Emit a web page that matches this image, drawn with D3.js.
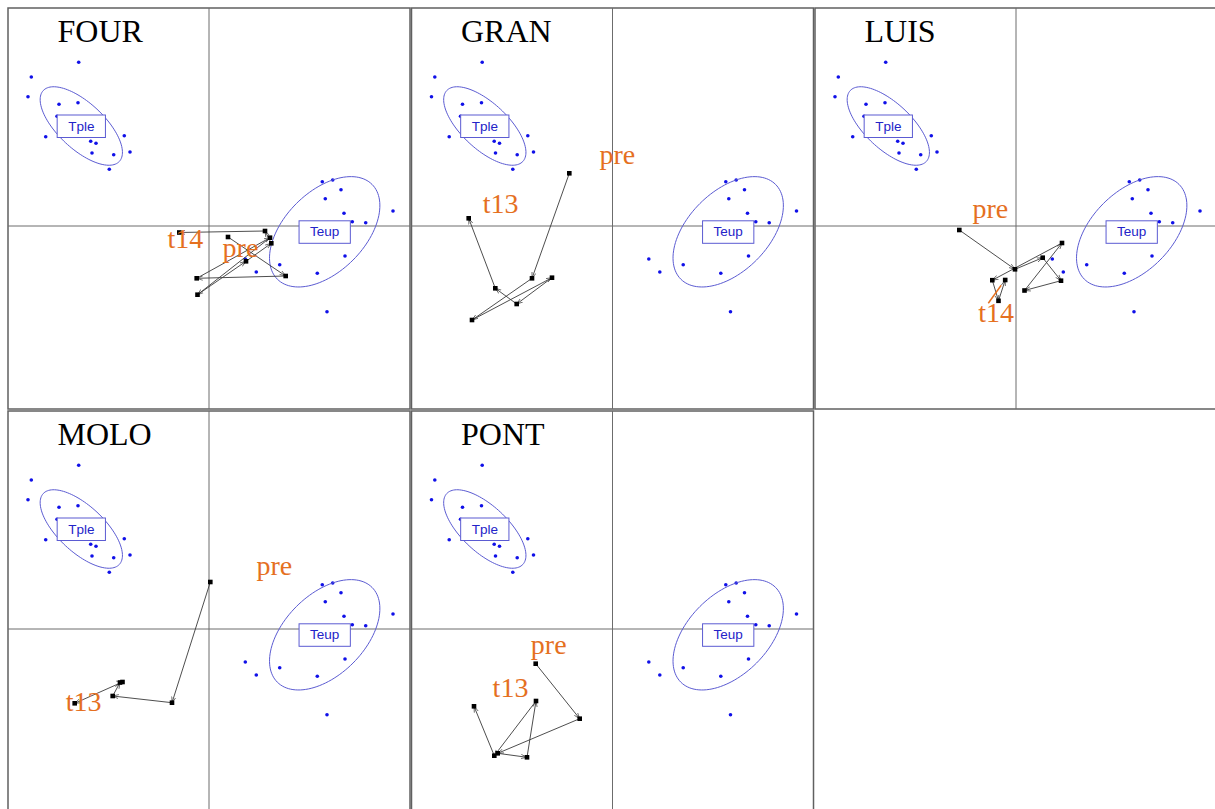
<!DOCTYPE html>
<html>
<head>
<meta charset="utf-8">
<script src="https://cdn.jsdelivr.net/npm/d3@7"></script>
<style>
  body { margin: 0; background: #fff; }
  svg { display: block; }
</style>
</head>
<body>
<svg id="chart" width="1215" height="809"></svg>
<script>
// ---- data -------------------------------------------------------------
const sites = ["FOUR", "GRAN", "LUIS", "MOLO", "PONT"];
const groupNames = ["Tple", "Teup"];

// reference samples on the factorial plane
const tpleX = [-1.303, -1.777, -1.81, -1.50, -1.31, -1.52, -1.633, -1.183, -1.13, -0.847, -1.17, -0.953, -0.79, -0.997];
const tpleY = [1.637, 1.49, 1.293, 1.217, 1.233, 1.097, 0.893, 0.847, 0.827, 0.903, 0.73, 0.713, 0.74, 0.567];
const teupX = [1.133, 1.237, 1.32, 1.163, 1.84, 1.35, 1.433, 1.567, 0.363, 1.36, 0.707, 0.473, 1.083, 1.18];
const teupY = [0.443, 0.46, 0.363, 0.273, 0.15, 0.127, 0.043, 0.033, -0.33, -0.30, -0.387, -0.46, -0.473, -0.857];

// class ellipses: centre, semi-axes and rotation (degrees)
const ellipseCx = [-1.277, 1.157];
const ellipseCy = [1.0, -0.058];
const ellipseA = [0.52, 0.67];
const ellipseB = [0.23, 0.40];
const ellipseRot = [-43, 45];

// site trajectories, in time order (first = pre, last = final date)
const trajFOUR = [[0.19, -0.11], [0.767, -0.50], [-0.123, -0.523], [0.61, -0.117], [-0.115, -0.687], [0.37, -0.353], [0.623, -0.173], [0.56, -0.05], [-0.297, -0.065]];
const trajGRAN = [[-0.432, 0.527], [-0.805, -0.523], [-1.405, -0.94], [-0.605, -0.517], [-0.958, -0.78], [-1.172, -0.623], [-1.438, 0.077]];
const trajLUIS = [[-0.567, -0.04], [-0.01, -0.433], [0.267, -0.317], [0.45, -0.547], [0.085, -0.645], [0.46, -0.17], [-0.237, -0.542], [-0.175, -0.748], [-0.108, -0.54]];
const trajMOLO = [[0.013, 0.47], [-0.37, -0.737], [-0.963, -0.67], [-0.89, -0.535], [-0.865, -0.53], [-1.343, -0.743]];
const trajPONT = [[-0.768, -0.347], [-0.328, -0.897], [-1.148, -1.243], [-0.855, -1.283], [-0.765, -0.72], [-1.182, -1.267], [-1.385, -0.773]];

const startLabels = ["pre", "pre", "pre", "pre", "pre"];
const endLabels = ["t14", "t13", "t14", "t13", "t13"];

// ---- layout / style ---------------------------------------------------
const trajectories = [trajFOUR, trajGRAN, trajLUIS, trajMOLO, trajPONT];
const panelW = 402, panelH = 401;
const colStep = 403.5, rowStep = 403, left0 = 8, top0 = 8;
const nCols = 3;

// label placement (pixel nudges from the labelled point)
const labelNudge = [
  { start: [12.5, 20], end: [6, 15.5] },
  { start: [48, -9], end: [32, -5] },
  { start: [31, -12], end: [-9, 42], leader: true },
  { start: [64, -7], end: [9, 7.5] },
  { start: [13, -10], end: [36.5, -9] }
];

const dotColor = "#1010e8";
const ellColor = "#5b5bd2";
const labelColor = "#e5701f";

const x = d3.scaleLinear().domain([-2.01, 2.01]).range([0, panelW]);
const y = d3.scaleLinear().domain([-1.83, 2.18]).range([panelH, 0]);

const svg = d3.select("#chart");

const defs = svg.append("defs");
defs.append("marker")
  .attr("id", "arrowhead")
  .attr("viewBox", "0 0 10 10")
  .attr("refX", 10).attr("refY", 5)
  .attr("markerWidth", 6).attr("markerHeight", 6)
  .attr("markerUnits", "userSpaceOnUse")
  .attr("orient", "auto")
  .append("path")
  .attr("d", "M0,1.5 L10,5 L0,8.5")
  .attr("fill", "none")
  .attr("stroke", "#444")
  .attr("stroke-width", 1.2);

const tple = tpleX.map((v, i) => [v, tpleY[i]]);
const teup = teupX.map((v, i) => [v, teupY[i]]);
const samples = tple.concat(teup);

function ellipsePath(k) {
  const rot = ellipseRot[k] * Math.PI / 180;
  const pts = d3.range(0, 361, 3).map(deg => {
    const t = deg * Math.PI / 180;
    const dx = ellipseA[k] * Math.cos(t), dy = ellipseB[k] * Math.sin(t);
    return [x(ellipseCx[k] + dx * Math.cos(rot) - dy * Math.sin(rot)),
            y(ellipseCy[k] + dx * Math.sin(rot) + dy * Math.cos(rot))];
  });
  return d3.line()(pts) + "Z";
}

sites.forEach((site, i) => {
  const c = i % nCols, r = Math.floor(i / nCols);
  const g = svg.append("g")
    .attr("transform", `translate(${left0 + c * colStep},${top0 + r * rowStep})`);

  // frame
  g.append("rect")
    .attr("x", 0).attr("y", 0)
    .attr("width", panelW).attr("height", panelH)
    .attr("fill", "none").attr("stroke", "#606060").attr("stroke-width", 1.5);

  // axes through the origin
  g.append("line").attr("x1", 0).attr("x2", panelW).attr("y1", y(0)).attr("y2", y(0))
    .attr("stroke", "#6c6c6c").attr("stroke-width", 1);
  g.append("line").attr("x1", x(0)).attr("x2", x(0)).attr("y1", 0).attr("y2", panelH)
    .attr("stroke", "#6c6c6c").attr("stroke-width", 1);

  // reference samples
  g.selectAll("circle.sample").data(samples).join("circle")
    .attr("class", "sample")
    .attr("cx", d => x(d[0])).attr("cy", d => y(d[1]))
    .attr("r", 1.8).attr("fill", dotColor);

  // class ellipses
  groupNames.forEach((name, k) => {
    g.append("path").attr("d", ellipsePath(k))
      .attr("fill", "none").attr("stroke", ellColor).attr("stroke-width", 1);
  });

  // class labels in boxes
  groupNames.forEach((name, k) => {
    const lg = g.append("g");
    const t = lg.append("text")
      .attr("x", x(ellipseCx[k])).attr("y", y(ellipseCy[k]))
      .attr("text-anchor", "middle").attr("dominant-baseline", "central")
      .attr("font-family", "'Liberation Sans', Arial, sans-serif")
      .attr("font-size", 13.5).attr("fill", "#2323c8")
      .text(name);
    const bb = t.node().getBBox();
    lg.insert("rect", "text")
      .attr("x", bb.x - 11).attr("y", y(ellipseCy[k]) - 11)
      .attr("width", bb.width + 22).attr("height", 22.5)
      .attr("fill", "#fff").attr("stroke", ellColor).attr("stroke-width", 1);
  });

  // trajectory
  const tr = trajectories[i];
  const segs = d3.pairs(tr);
  g.selectAll("line.seg").data(segs).join("line")
    .attr("class", "seg")
    .attr("x1", d => x(d[0][0])).attr("y1", d => y(d[0][1]))
    .attr("x2", d => x(d[1][0])).attr("y2", d => y(d[1][1]))
    .attr("stroke", "#3a3a3a").attr("stroke-width", 0.9)
    .attr("marker-end", "url(#arrowhead)");
  g.selectAll("rect.pt").data(tr).join("rect")
    .attr("class", "pt")
    .attr("x", d => x(d[0]) - 2.3).attr("y", d => y(d[1]) - 2.3)
    .attr("width", 4.6).attr("height", 4.6)
    .attr("fill", "#000");

  // start / end labels
  const nudge = labelNudge[i];
  const first = tr[0], last = tr[tr.length - 1];
  const labels = [
    { text: startLabels[i], p: first, n: nudge.start },
    { text: endLabels[i], p: last, n: nudge.end }
  ];
  if (nudge.leader) {
    const lx = x(last[0]), ly = y(last[1]);
    g.append("line")
      .attr("x1", lx - 4).attr("y1", ly + 5.3)
      .attr("x2", lx - 16.9).attr("y2", ly + 23.3)
      .attr("stroke", labelColor).attr("stroke-width", 1.5);
  }
  g.selectAll("text.tl").data(labels).join("text")
    .attr("class", "tl")
    .attr("x", d => x(d.p[0]) + d.n[0]).attr("y", d => y(d.p[1]) + d.n[1])
    .attr("text-anchor", "middle")
    .attr("font-family", "'Liberation Serif', 'Times New Roman', serif")
    .attr("font-size", 28).attr("fill", labelColor)
    .text(d => d.text);

  // site title
  g.append("text")
    .attr("x", 49.5).attr("y", 33.5)
    .attr("font-family", "'Liberation Serif', 'Times New Roman', serif")
    .attr("font-size", 32).attr("fill", "#000")
    .text(site);
});
</script>
</body>
</html>
